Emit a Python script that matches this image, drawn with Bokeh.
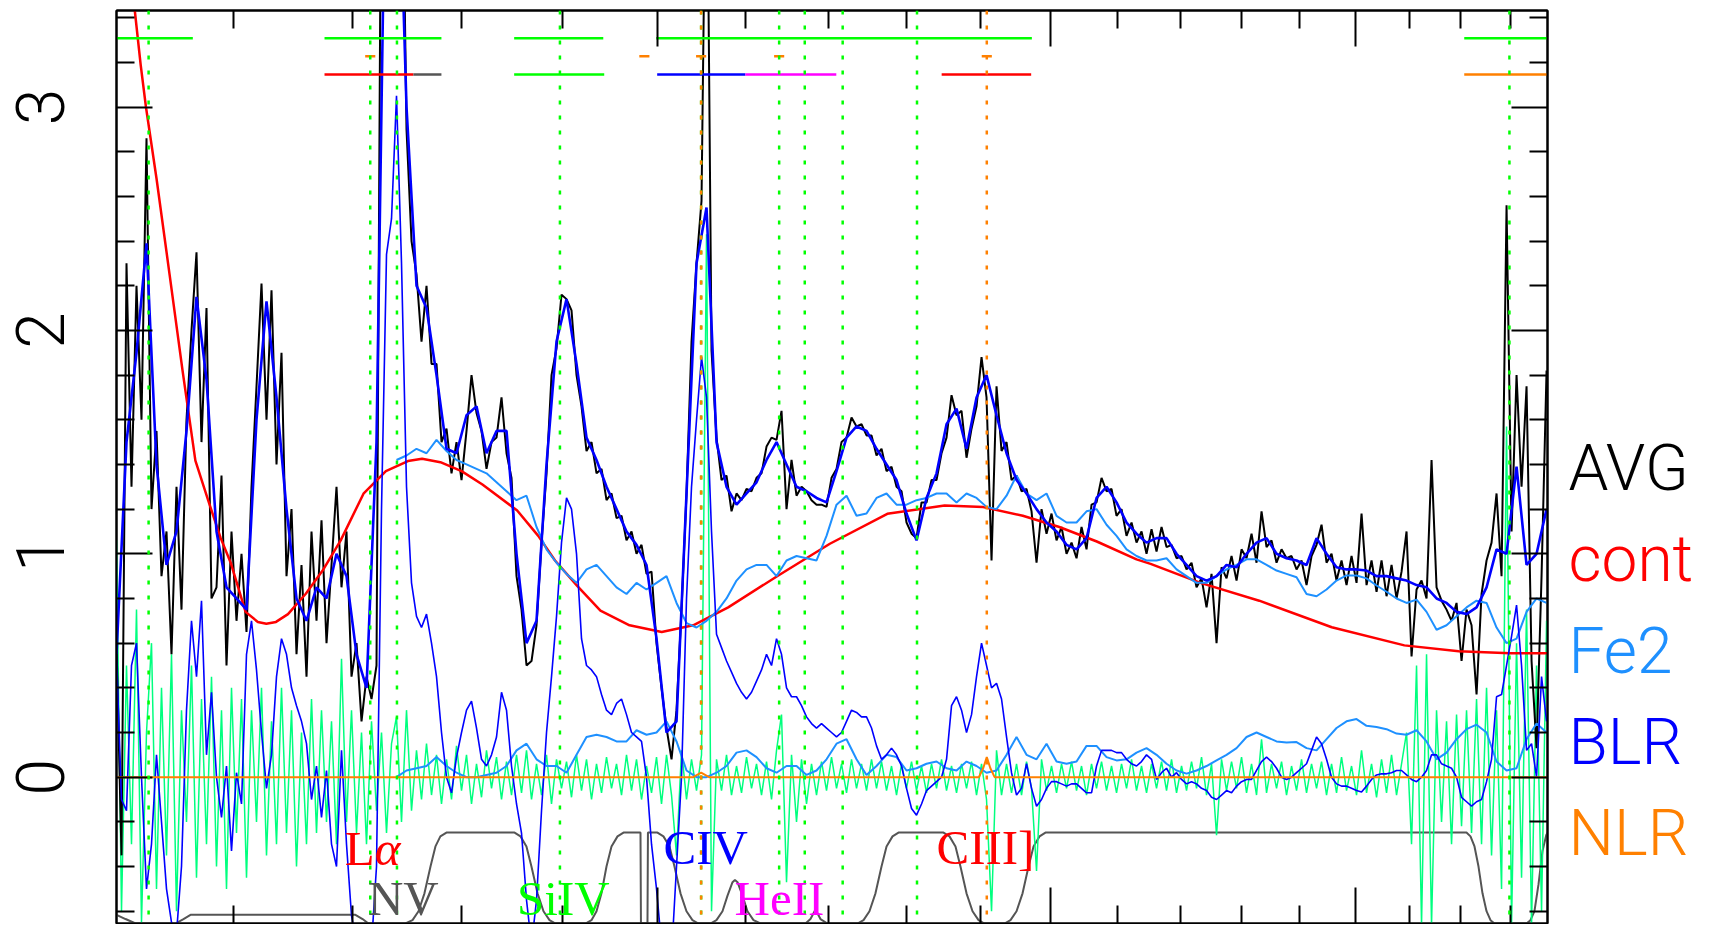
import numpy as np
from bokeh.plotting import figure
from bokeh.layouts import row
from bokeh.models import Range1d, FixedTicker, LogAxis, LinearAxis, Label, Span
from bokeh.embed import file_html
from bokeh.resources import INLINE

# ---------------- data (rest-frame wavelength in Angstrom, flux) ----------------
# spectrum sampling grids (log-uniform wavelength bins)
WAVE_FINE = np.geomspace(1010.0, 2875.0, 287)
WAVE_COARSE = np.geomspace(1010.0, 2875.0, 144)

AVG = [
    0.6, -0.35, 2.3, 1.3, 2.2, 1.6, 2.86, 1.2, 1.55, 0.9,
    1.1, 0.55, 1.3, 0.75, 1.6, 2.0, 2.35, 1.5, 2.1, 0.8,
    0.85, 1.35, 0.5, 1.1, 0.7, 1.0, 0.65, 1.3, 1.75, 2.21,
    1.6, 2.18, 1.4, 1.9, 0.9, 1.2, 0.55, 0.95, 0.45, 1.1,
    0.7, 1.15, 0.6, 0.95, 1.3, 0.85, 1.1, 0.45, 0.6, 0.25,
    0.45, 0.35, 0.5, 4.5, 4.5, 4.5, 4.5, 4.5, 2.9, 2.4,
    2.25, 1.95, 2.2, 1.85, 1.85, 1.5, 1.56, 1.36, 1.5, 1.33,
    1.55, 1.8, 1.63, 1.55, 1.38, 1.5, 1.52, 1.7, 1.45, 1.34,
    0.9, 0.75, 0.5, 0.52, 0.68, 1.05, 1.36, 1.8, 1.92, 2.16,
    2.14, 2.09, 1.8, 1.66, 1.46, 1.5, 1.36, 1.38, 1.24, 1.27,
    1.16, 1.17, 1.06, 1.1, 1.0, 1.04, 0.91, 0.92, 0.6, 0.4,
    0.22, 0.08, 0.3, 0.75, 1.27, 1.95, 2.3, 2.58, 4.5, 1.91,
    1.52, 1.33, 1.35, 1.19, 1.27, 1.24, 1.29, 1.28, 1.34, 1.36,
    1.48, 1.52, 1.51, 1.64, 1.2, 1.42, 1.26, 1.3, 1.28, 1.24,
    1.22, 1.22, 1.21, 1.34, 1.38, 1.5, 1.52, 1.61, 1.57, 1.58,
    1.53, 1.53, 1.44, 1.47, 1.37, 1.39, 1.3, 1.28, 1.14, 1.09,
    1.07, 1.23, 1.23, 1.33, 1.33, 1.45, 1.52, 1.71, 1.62, 1.64,
    1.43, 1.56, 1.66, 1.88, 1.7, 0.97, 1.75, 1.46, 1.5, 1.33,
    1.35, 1.28, 1.29, 1.19, 0.96, 1.2, 1.09, 1.18, 1.06, 1.12,
    1.0, 1.05, 0.98, 1.12, 1.02, 1.22, 1.23, 1.34, 1.28, 1.29,
    1.17, 1.2, 1.08, 1.14, 1.05, 1.1, 1.0, 1.11, 1.01, 1.12,
    1.03, 1.04, 0.98, 0.99, 0.93, 0.96, 0.85, 0.89, 0.76, 0.91,
    0.6, 0.94, 0.89, 0.99, 0.88, 1.02, 0.98, 1.09, 0.96, 1.19,
    1.03, 1.06, 0.96, 1.02, 0.98, 0.99, 0.93, 0.97, 0.86, 0.99,
    1.04, 1.13, 0.96, 1.0, 0.88, 0.97, 0.86, 0.99, 0.87, 1.18,
    0.86, 0.97, 0.83, 0.97, 0.81, 0.95, 0.8, 0.92, 1.1, 0.54,
    0.84, 0.88, 0.8, 1.42, 0.85, 0.79, 0.75, 0.7, 0.78, 0.52,
    0.75, 0.68, 0.37, 0.82, 0.97, 1.05, 1.27, 0.9, 2.56, 1.1,
    1.8, 1.3, 1.75, 0.52, 0.13, 0.9, 1.82,
]

RESID = [
    1.06, -0.6, 0.5, -0.3, 0.75, -0.65, 0.2, 0.6, -0.5, 0.4,
    -0.35, 0.55, -0.6, 0.3, -0.2, 0.5, -0.45, 0.35, -0.3, 0.45,
    -0.4, 0.3, -0.5, 0.4, -0.25, 0.35, -0.45, 0.3, -0.2, 0.4,
    -0.35, 0.25, -0.3, 0.4, -0.25, 0.3, -0.4, 0.2, -0.3, 0.35,
    -0.25, 0.3, -0.2, 0.25, -0.3, 0.53, -0.2, 0.3, -0.25, 0.2,
    -0.3, 0.25, -0.15, 0.2, -0.25, 0.15, 0.27, -0.2, 0.3, -0.15,
    0.12, -0.1, 0.15, -0.08, 0.1, -0.12, 0.08, -0.1, 0.14, -0.06,
    0.1, -0.12, 0.06, -0.09, 0.12, -0.05, 0.09, -0.1, 0.07, -0.08,
    0.1, -0.07, 0.12, -0.1, 0.06, -0.08, 0.1, -0.12, 0.08, -0.05,
    0.07, -0.09, 0.1, -0.06, 0.08, -0.1, 0.06, -0.07, 0.09, -0.05,
    0.06, -0.08, 0.1, -0.06, 0.08, -0.1, 0.05, -0.07, 0.09, -0.12,
    0.1, -0.08, -0.35, 0.12, -0.1, 0.08, -0.06, 0.1, 2.43, -0.6,
    0.08, -0.06, 0.1, -0.08, 0.05, -0.07, 0.09, -0.05, 0.06, -0.08,
    0.07, -0.1, 0.12, 0.28, -0.47, 0.1, -0.2, 0.08, -0.12, 0.06,
    -0.08, 0.07, -0.06, 0.09, -0.05, 0.06, -0.07, 0.08, -0.05, 0.06,
    -0.06, 0.08, -0.05, 0.07, -0.06, 0.05, -0.08, 0.06, -0.05, 0.07,
    -0.06, 0.05, -0.07, 0.06, -0.05, 0.08, -0.06, 0.05, -0.07, 0.06,
    -0.05, 0.07, -0.08, 0.06, -0.1, -0.6, 0.12, -0.08, 0.06, -0.07,
    0.06, -0.08, 0.07, -0.05, -0.42, 0.08, -0.06, 0.05, -0.07, 0.06,
    -0.05, 0.07, -0.06, 0.05, -0.08, 0.06, -0.05, 0.07, -0.06, 0.05,
    -0.07, 0.06, -0.05, 0.08, -0.06, 0.05, -0.07, 0.06, -0.05, 0.07,
    -0.06, 0.08, -0.07, 0.05, -0.06, 0.07, -0.05, 0.09, -0.08, 0.06,
    -0.26, 0.08, -0.06, 0.07, -0.05, 0.09, -0.07, 0.06, -0.08, 0.17,
    -0.07, 0.06, -0.05, 0.07, -0.08, 0.05, -0.06, 0.08, -0.07, 0.06,
    -0.05, 0.07, -0.08, 0.06, -0.07, 0.09, -0.06, 0.05, -0.08, 0.12,
    -0.07, 0.06, -0.09, 0.08, -0.07, 0.1, -0.08, 0.06, 0.2, -0.3,
    0.5, -0.66, 0.55, -0.66, 0.3, -0.2, 0.25, -0.3, 0.28, -0.22,
    0.3, -0.25, 0.35, -0.3, 0.4, -0.35, 0.3, -0.5, 1.57, -0.66,
    0.6, -0.45, 0.75, -0.66, 0.5, -0.6, 0.7,
]

BLR = [
    0.55, -0.1, -0.15, 0.5, 0.6, 0.0, -0.5, -0.3, 0.1, -0.2,
    -0.5, -0.65, -0.7, -0.4, 0.3, 0.7, 0.45, 0.79, 0.1, 0.38,
    0.0, -0.18, 0.05, -0.33, 0.02, -0.12, 0.55, 0.7, 0.48, 0.2,
    -0.05, 0.1, 0.45, 0.62, 0.55, 0.4, 0.32, 0.25, 0.15, -0.1,
    0.05, -0.18, 0.03, -0.3, -0.4, 0.12, -0.3, -0.62, -0.75, -0.8,
    -0.8, -0.75, -0.4, 1.2, 2.34, 2.5, 3.05, 2.3, 1.3, 0.87,
    0.72, 0.67, 0.73, 0.6, 0.45, 0.2, 0.0, -0.07, 0.09, 0.2,
    0.3, 0.34, 0.22, 0.08, 0.05, 0.1, 0.18, 0.38, 0.3, 0.05,
    -0.12, -0.25, -0.55, -0.75, -0.55, -0.15, 0.2, 0.45, 0.72, 1.05,
    1.25, 1.2, 1.0, 0.62, 0.5, 0.48, 0.45, 0.37, 0.3, 0.28,
    0.33, 0.35, 0.28, 0.2, 0.18, 0.16, 0.0, -0.3, -0.5, -0.75,
    -0.85, -0.8, -0.4, 0.0, 0.8, 1.3, 1.6, 1.88, 1.7, 1.1,
    0.64, 0.58, 0.52, 0.47, 0.42, 0.38, 0.35, 0.38, 0.43, 0.48,
    0.55, 0.5, 0.62, 0.55, 0.4, 0.36, 0.36, 0.32, 0.27, 0.24,
    0.22, 0.24, 0.22, 0.2, 0.18, 0.2, 0.25, 0.3, 0.29, 0.27,
    0.27, 0.22, 0.14, 0.08, 0.1, 0.13, 0.1, 0.05, -0.05, -0.14,
    -0.17, -0.12, -0.06, -0.04, -0.02, 0.0, 0.08, 0.32, 0.36, 0.3,
    0.2, 0.28, 0.45, 0.6, 0.5, 0.4, 0.42, 0.35, 0.18, 0.02,
    -0.08, -0.05, 0.06, -0.05, -0.13, -0.1, -0.05, -0.02, -0.02, -0.03,
    -0.04, -0.03, -0.03, -0.05, -0.07, -0.07, 0.05, 0.12, 0.12, 0.12,
    0.11, 0.11, 0.08, 0.06, 0.05, 0.07, 0.1, 0.08, -0.01, 0.02,
    0.04, 0.0, 0.02, -0.01, -0.03, -0.02, -0.03, -0.05, -0.06, -0.09,
    -0.1, -0.08, -0.06, -0.07, -0.04, -0.02, -0.01, -0.01, 0.03, 0.07,
    0.09, 0.07, 0.04, 0.0, -0.01, 0.0, 0.02, 0.04, 0.06, 0.12,
    0.18, 0.15, 0.08, 0.0, -0.03, -0.04, -0.04, -0.05, -0.06, -0.066,
    -0.04, -0.01, 0.01, 0.015, 0.015, 0.02, 0.03, 0.03, 0.01, -0.01,
    -0.02, 0.0, 0.03, 0.1, 0.1, 0.06, 0.05, 0.04, 0.0, -0.09,
    -0.11, -0.13, -0.11, -0.1, -0.02, 0.08, 0.36, 0.37, 0.5, 0.63,
    0.77, 0.5, 0.12, 0.15, 0.0, 0.45, 0.25,
]

MODEL = [
    0.55, 1.5, 1.9, 2.39, 1.4, 0.95, 1.1, 1.55, 2.15, 1.78,
    1.1, 0.85, 0.8, 0.75, 1.6, 2.13, 1.7, 1.2, 0.8, 0.7,
    0.85, 0.8, 1.0, 0.9, 0.55, 0.4, 1.5, 4.5, 4.5, 3.0,
    2.2, 2.1, 1.8, 1.47, 1.45, 1.62, 1.66, 1.45, 1.55, 1.55,
    1.0, 0.6, 0.7, 1.4, 1.95, 2.14, 1.85, 1.52, 1.42, 1.3,
    1.2, 1.1, 1.04, 0.95, 0.62, 0.2, 0.25, 1.27, 2.3, 2.55,
    1.5, 1.3, 1.22, 1.27, 1.32, 1.42, 1.5, 1.4, 1.3, 1.28,
    1.25, 1.23, 1.37, 1.52, 1.57, 1.55, 1.47, 1.4, 1.33, 1.18,
    1.06, 1.25, 1.36, 1.58, 1.65, 1.47, 1.7, 1.8, 1.62, 1.45,
    1.33, 1.27, 1.2, 1.14, 1.1, 1.04, 1.02, 1.07, 1.25, 1.3,
    1.23, 1.14, 1.09, 1.05, 1.07, 1.07, 1.0, 0.95, 0.9, 0.88,
    0.9, 0.95, 0.94, 1.0, 1.05, 1.07, 1.0, 0.98, 0.97, 0.95,
    1.07, 1.0, 0.94, 0.93, 0.93, 0.925, 0.9, 0.9, 0.89, 0.88,
    0.86, 0.85, 0.8, 0.78, 0.74, 0.73, 0.76, 0.85, 1.02, 1.0,
    1.39, 0.95, 1.0, 1.2,
]

# Fe II template starts at coarse bin FE2_START
FE2_START = 28
FE2_TOTAL = [
    1.42,
    1.44, 1.47, 1.45, 1.51, 1.46, 1.42, 1.4, 1.38, 1.36, 1.32,
    1.28, 1.24, 1.26, 1.12, 1.02, 0.96, 0.91, 0.87, 0.93, 0.95,
    0.9, 0.85, 0.82, 0.87, 0.84, 0.87, 0.9, 0.78, 0.69, 0.67,
    0.7, 0.74, 0.8, 0.88, 0.93, 0.95, 0.95, 0.9, 0.97, 0.99,
    0.98, 0.97, 1.08, 1.22, 1.26, 1.17, 1.18, 1.25, 1.27, 1.22,
    1.22, 1.24, 1.25, 1.27, 1.27, 1.23, 1.27, 1.25, 1.21, 1.2,
    1.26, 1.35, 1.27, 1.24, 1.27, 1.17, 1.14, 1.14, 1.19, 1.2,
    1.13, 1.08, 1.02, 0.99, 0.97, 0.97, 0.98, 0.93, 0.9, 0.87,
    0.87, 0.9, 0.93, 0.95, 0.975, 0.975, 0.95, 0.925, 0.91, 0.895,
    0.82, 0.81, 0.84, 0.88, 0.903, 0.903, 0.89, 0.858, 0.83, 0.8,
    0.78, 0.795, 0.74, 0.66, 0.68, 0.72, 0.76, 0.79, 0.78, 0.67,
    0.6, 0.62, 0.74, 0.8, 0.78,
]
FE2 = [
    0.0,
    0.03, 0.04, 0.05, 0.09, 0.05, 0.02, 0.0, 0.0, 0.01, 0.02,
    0.05, 0.12, 0.15, 0.08, 0.05, 0.05, 0.02, 0.1, 0.18, 0.19,
    0.18, 0.16, 0.16, 0.21, 0.19, 0.2, 0.25, 0.16, 0.03, 0.0,
    0.0, 0.02, 0.05, 0.11, 0.12, 0.09, 0.04, 0.02, 0.05, 0.05,
    0.01, 0.03, 0.08, 0.15, 0.17, 0.08, 0.01, 0.05, 0.1, 0.09,
    0.03, 0.04, 0.06, 0.07, 0.04, 0.03, 0.07, 0.05, 0.02, 0.03,
    0.1, 0.18, 0.1, 0.08, 0.15, 0.07, 0.06, 0.07, 0.14, 0.14,
    0.09, 0.075, 0.08, 0.11, 0.13, 0.1, 0.06, 0.03, 0.016, 0.03,
    0.05, 0.075, 0.1, 0.13, 0.18, 0.2, 0.18, 0.16, 0.155, 0.157,
    0.13, 0.12, 0.17, 0.22, 0.25, 0.26, 0.23, 0.225, 0.215, 0.195,
    0.19, 0.21, 0.16, 0.08, 0.11, 0.17, 0.215, 0.235, 0.2, 0.07,
    0.03, 0.04, 0.17, 0.24, 0.2,
]

CONT_WAVE = [1019, 1023.6, 1028, 1032, 1040, 1050, 1060, 1070, 1080, 1090,
             1098, 1110, 1120, 1127, 1135, 1145, 1160, 1175, 1190, 1210,
             1230, 1250, 1263, 1280, 1300, 1320, 1354, 1375, 1392, 1415,
             1439, 1470, 1505, 1540, 1580, 1639, 1702, 1775, 1851, 1904,
             1960, 2013, 2069, 2130, 2152, 2232, 2330, 2457, 2591, 2696,
             2800, 2877]
CONT = [3.66, 3.432, 3.19, 3.0, 2.68, 2.25, 1.82, 1.417, 1.24, 1.07,
        0.96, 0.74, 0.695, 0.687, 0.695, 0.73, 0.821, 0.93, 1.06, 1.269,
        1.37, 1.415, 1.425, 1.41, 1.37, 1.31, 1.194, 1.08, 0.97, 0.855,
        0.746, 0.68, 0.65, 0.68, 0.76, 0.903, 1.045, 1.179, 1.216, 1.209,
        1.17, 1.12, 1.055, 0.975, 0.955, 0.87, 0.79, 0.671, 0.59, 0.564,
        0.555, 0.555]

NLR_WAVE = [1010, 1540, 1549, 1558, 1898, 1904, 1909, 1914, 1920, 2877]
NLR = [0.0, 0.0, 0.02, 0.0, 0.0, 0.04, 0.09, 0.04, 0.0, 0.0]

MASK_WAVE = [1010, 1016.7, 1024.2, 1054.5, 1060.7, 1066.2, 1202.9, 1209.2, 1214.4,
             1247.7, 1254.2, 1259.7, 1265.2, 1270.8, 1275.4, 1280.0, 1285.7,
             1351.4, 1357.3, 1363.2, 1368.2, 1374.3, 1380.3, 1386.4, 1392.5,
             1423.4, 1429.6, 1434.9, 1440.1, 1445.4, 1450.7, 1457.1, 1463.5,
             1481.8, 1482.3, 1489.4, 1489.9, 1500.3, 1506.9, 1513.6, 1519.1,
             1525.8, 1532.5, 1539.2, 1546.0, 1559.6, 1566.5, 1573.4, 1579.2,
             1585.0, 1587.8, 1590.8, 1596.6, 1602.4, 1609.5, 1617.7, 1671.9,
             1678.0, 1684.2, 1690.3, 1699.0, 1736.7, 1744.4, 1752.0, 1759.7,
             1767.5, 1774.0, 1781.8, 1789.6, 1849.5, 1857.6, 1865.8, 1872.6,
             1880.9, 1889.2, 1897.5, 1905.8, 1933.9, 1942.4, 1951.0, 1959.6,
             1968.2, 1975.4, 1984.1, 1992.7, 2711.4, 2719.4, 2727.4, 2735.4,
             2743.4, 2751.5, 2759.5, 2767.6, 2833.1, 2841.4, 2849.7, 2858.1,
             2866.5, 2874.3, 2877.0]
MASK = [-0.616, -0.635, -0.655, -0.655, -0.635, -0.616, -0.616, -0.635, -0.655,
        -0.655, -0.64, -0.6, -0.52, -0.40, -0.31, -0.265, -0.248,
        -0.248, -0.265, -0.31, -0.40, -0.52, -0.6, -0.64, -0.655,
        -0.655, -0.64, -0.6, -0.52, -0.40, -0.31, -0.265, -0.248,
        -0.248, -0.655, -0.655, -0.248, -0.248, -0.265, -0.31, -0.40,
        -0.52, -0.6, -0.64, -0.655, -0.655, -0.64, -0.6, -0.53,
        -0.47, -0.46, -0.47, -0.53, -0.6, -0.64, -0.655, -0.655,
        -0.635, -0.592, -0.635, -0.655, -0.655, -0.64, -0.6, -0.52,
        -0.40, -0.31, -0.265, -0.248, -0.248, -0.265, -0.31, -0.40,
        -0.52, -0.6, -0.64, -0.655, -0.655, -0.64, -0.6, -0.52,
        -0.40, -0.31, -0.265, -0.248, -0.248, -0.265, -0.31, -0.40,
        -0.52, -0.6, -0.64, -0.655, -0.655, -0.64, -0.6, -0.48,
        -0.33, -0.26, -0.248]

# fitting windows (top row), NLR line marks (2nd row), line windows (3rd row)
FIT_START = [1010, 1176, 1351, 1499, 2707]
FIT_END = [1068, 1281, 1442, 1973, 2877]
NLR_LINES = [1216, 1486, 1549, 1640, 1909]
LINE_WIN_START = [1176, 1255, 1351, 1500, 1600, 1847, 2707]
LINE_WIN_END = [1255, 1281, 1443, 1600, 1710, 1972, 2877]
LINE_WIN_COLOR = ["#ff0000", "#555555", "#00ff00", "#0000ff", "#ff00ff", "#ff0000", "#ff8000"]
ROW_LEVELS = [3.308, 3.227, 3.145]

# line identifications (vertical dotted markers)
ID_GREEN = [1034, 1216, 1240, 1397, 1549, 1640, 1671, 1718, 1814, 2798]
ID_ORANGE = [1549, 1909]

LINE_LABELS = ["L", "α", "NV", "SiIV", "CIV", "HeII", "CIII]"]
LINE_LABEL_X = [1193.6, 1220.0, 1213.9, 1353.9, 1506.9, 1587.3, 1840.0]
LINE_LABEL_Y = [-0.32, -0.32, -0.544, -0.543, -0.313, -0.543, -0.313]
LINE_LABEL_COLOR = ["#ff0000", "#ff0000", "#555555", "#00ff00", "#0000ff", "#ff00ff", "#ff0000"]

LEGEND = ["AVG", "cont", "Fe2", "BLR", "NLR"]
LEGEND_Y = [1.383, 0.9745, 0.564, 0.1567, -0.252]
LEGEND_COLOR = ["#000000", "#ff0000", "#1e90ff", "#0000ff", "#ff8000"]

X_MAJOR = [1500, 2000, 2500]
X_MINOR = [1100, 1200, 1300, 1400, 1600, 1700, 1800, 1900,
           2100, 2200, 2300, 2400, 2600, 2700, 2800]
Y_MAJOR = [0, 1, 2, 3]
Y_MINOR = [-0.6, -0.4, -0.2, 0.2, 0.4, 0.6, 0.8, 1.2, 1.4, 1.6, 1.8,
           2.2, 2.4, 2.6, 2.8, 3.2, 3.4]

THIN_FONT = "Roboto Light"
SERIF_FONT = "Liberation Serif"

# ---------------- main figure ----------------
H = 924
p = figure(width=1549, height=H, x_axis_type="log",
           x_range=Range1d(1010, 2877), y_range=Range1d(-0.655, 3.432),
           output_backend="svg", toolbar_location=None,
           min_border_left=116, min_border_right=2,
           min_border_top=10, min_border_bottom=1)
p.xgrid.visible = False
p.ygrid.visible = False
p.outline_line_color = "black"
p.outline_line_width = 2
p.outline_line_alpha = 1.0

bottom_axis = p.below[0]
left_axis = p.left[0]
top_axis = LogAxis()
right_axis = LinearAxis()
p.add_layout(top_axis, "above")
p.add_layout(right_axis, "right")


def style_axis(ax, ticker, show_labels):
    ax.ticker = ticker
    ax.axis_line_width = 2
    ax.axis_line_color = "black"
    ax.major_tick_in = 36
    ax.major_tick_out = 0
    ax.minor_tick_in = 18
    ax.minor_tick_out = 0
    ax.major_tick_line_width = 2
    ax.minor_tick_line_width = 2
    ax.major_tick_line_color = "black"
    ax.minor_tick_line_color = "black"
    ax.axis_label = None
    if not show_labels:
        ax.major_label_text_color = None
        ax.major_label_text_font_size = "0px"
        ax.major_label_standoff = 0


style_axis(bottom_axis, FixedTicker(ticks=X_MAJOR, minor_ticks=X_MINOR), False)
style_axis(top_axis, FixedTicker(ticks=X_MAJOR, minor_ticks=X_MINOR), False)
style_axis(right_axis, FixedTicker(ticks=Y_MAJOR, minor_ticks=Y_MINOR), False)
style_axis(left_axis, FixedTicker(ticks=Y_MAJOR, minor_ticks=Y_MINOR), True)
left_axis.major_label_orientation = "vertical"
left_axis.major_label_text_font = THIN_FONT
left_axis.major_label_text_font_size = "66px"
left_axis.major_label_text_color = "black"
left_axis.major_label_standoff = 52

# ---------------- glyphs ----------------
wf = WAVE_FINE
wc = WAVE_COARSE

p.line(MASK_WAVE, MASK, line_color="#555555", line_width=2)
p.line(wf, RESID, line_color="#00ff7f", line_width=1.5)
p.line(wf, AVG, line_color="black", line_width=2)
p.line(CONT_WAVE, CONT, line_color="#ff0000", line_width=2.5)
p.line(wc[FE2_START:], FE2_TOTAL, line_color="#1e90ff", line_width=2)
p.line(wc[FE2_START:], FE2, line_color="#1e90ff", line_width=2)
p.line(wf, BLR, line_color="#0000ff", line_width=1.6)
p.line(NLR_WAVE, NLR, line_color="#ff8000", line_width=2)
p.line(wc, MODEL, line_color="#0000ff", line_width=2.6)

# top rows
p.segment(x0=FIT_START, y0=[ROW_LEVELS[0]] * len(FIT_START),
          x1=FIT_END, y1=[ROW_LEVELS[0]] * len(FIT_END),
          line_color="#00ff00", line_width=2.5)
nl = np.array(NLR_LINES, dtype=float)
half = np.exp(0.0037)
p.segment(x0=nl / half, y0=[ROW_LEVELS[1]] * len(nl), x1=nl * half,
          y1=[ROW_LEVELS[1]] * len(nl), line_color="#ff8000", line_width=2.5)
p.segment(x0=LINE_WIN_START, y0=[ROW_LEVELS[2]] * len(LINE_WIN_START),
          x1=LINE_WIN_END, y1=[ROW_LEVELS[2]] * len(LINE_WIN_END),
          line_color=LINE_WIN_COLOR, line_width=2.5)

for lam in ID_GREEN:
    p.add_layout(Span(location=lam, dimension="height", line_color="#00ff00",
                      line_width=2.5, line_dash="4 11"))
for lam in ID_ORANGE:
    p.add_layout(Span(location=lam, dimension="height", line_color="#ff8000",
                      line_width=2.5, line_dash="4 11"))

for txt, x, y, c in zip(LINE_LABELS, LINE_LABEL_X, LINE_LABEL_Y, LINE_LABEL_COLOR):
    p.add_layout(Label(x=x, y=y, text=txt, text_color=c, text_font=SERIF_FONT,
                       text_font_size="49px", text_align="left",
                       text_baseline="alphabetic",
                       text_font_style="italic" if txt == "α" else "normal"))

# ---------------- legend panel (same vertical scale) ----------------
leg = figure(width=166, height=H, x_range=Range1d(0, 166), y_range=p.y_range,
             output_backend="svg", toolbar_location=None,
             x_axis_location=None, y_axis_location=None,
             min_border_left=0, min_border_right=0,
             min_border_top=10, min_border_bottom=1)
leg.xgrid.visible = False
leg.ygrid.visible = False
leg.outline_line_color = None
for txt, y, c in zip(LEGEND, LEGEND_Y, LEGEND_COLOR):
    leg.add_layout(Label(x=19, y=y, text=txt, text_color=c, text_font=THIN_FONT,
                         text_font_size="64px", text_align="left",
                         text_baseline="alphabetic"))

layout = row(p, leg)
open("out.html", "w").write(file_html(layout, INLINE))
